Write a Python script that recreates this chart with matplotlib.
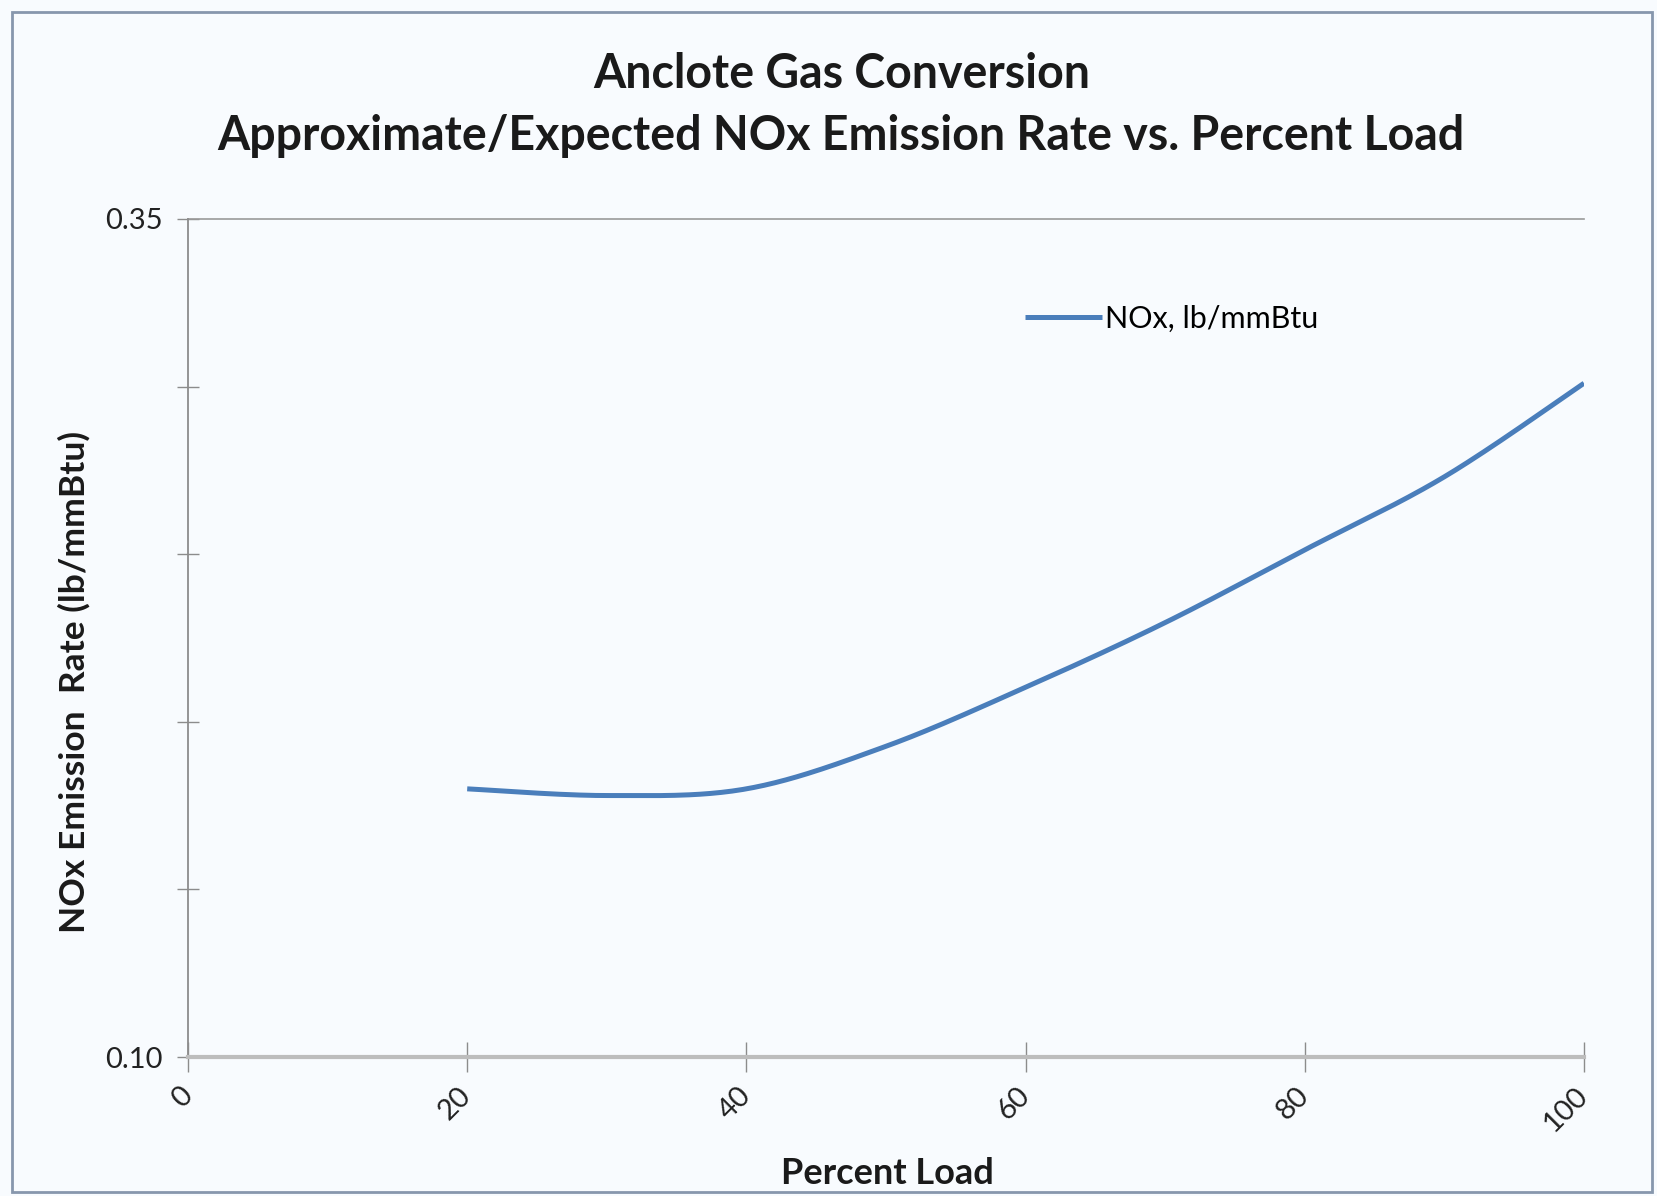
import numpy as np
import matplotlib
matplotlib.use("Agg")
import matplotlib.pyplot as plt
from matplotlib.patches import Rectangle

# Percent load vs. NOx emission rate (lb/mmBtu)
load_pct = [20, 30, 40, 50, 60, 70, 80, 90, 100]
nox_rate = [0.180, 0.178, 0.180, 0.1927, 0.2103, 0.2296, 0.2513, 0.2731, 0.301]

x_ticks = [0, 20, 40, 60, 80, 100]
y_ticks = [0.10, 0.15, 0.20, 0.25, 0.30, 0.35]
y_tick_labels = ["0.10", "", "", "", "", "0.35"]

title_lines = ["Anclote Gas Conversion",
               "Approximate/Expected NOx Emission Rate vs. Percent Load"]
x_label = "Percent Load"
y_label = "NOx Emission  Rate (lb/mmBtu)"
series_name = "NOx, lb/mmBtu"

LINE_BLUE = "#4a7ebb"
BG = "#f8fbfe"
FONT = ["Lato", "DejaVu Sans"]
W, H = 1657, 1196


def smooth_curve(xs, ys, n=40):
    """Spreadsheet-style smoothed line: cubic Bezier segments with
    Catmull-Rom style control points through every data point."""
    xs = np.asarray(xs, float)
    ys = np.asarray(ys, float)
    px = np.concatenate([[xs[0]], xs, [xs[-1]]])
    py = np.concatenate([[ys[0]], ys, [ys[-1]]])
    out_x, out_y = [], []
    t = np.linspace(0, 1, n)
    for i in range(1, len(px) - 2):
        p0 = np.array([px[i], py[i]])
        p3 = np.array([px[i + 1], py[i + 1]])
        c1 = p0 + (np.array([px[i + 1], py[i + 1]]) - np.array([px[i - 1], py[i - 1]])) / 6
        c2 = p3 - (np.array([px[i + 2], py[i + 2]]) - np.array([px[i], py[i]])) / 6
        b = ((1 - t) ** 3)[:, None] * p0 + (3 * (1 - t) ** 2 * t)[:, None] * c1 \
            + (3 * (1 - t) * t ** 2)[:, None] * c2 + (t ** 3)[:, None] * p3
        out_x.extend(b[:, 0])
        out_y.extend(b[:, 1])
    return np.array(out_x), np.array(out_y)


fig = plt.figure(figsize=(W / 100, H / 100), dpi=100)
fig.patch.set_facecolor(BG)

# chart frame
fig.patches.append(Rectangle((12 / W, 4 / H), 1640 / W, 1180 / H,
                             transform=fig.transFigure, fill=False,
                             edgecolor="#8797ad", linewidth=2.0))

ax = fig.add_axes([188 / W, 1 - 1057 / H, (1584 - 188) / W, (1057 - 219) / H])
ax.set_facecolor(BG)

sx, sy = smooth_curve(load_pct, nox_rate)
ax.plot(sx, sy, color=LINE_BLUE, linewidth=3.6, solid_capstyle="butt", label=series_name)

ax.set_xlim(0, 100)
ax.set_ylim(0.10, 0.35)

for side in ["top", "right"]:
    ax.spines[side].set_visible(False)
ax.spines["left"].set_color("#8c8c8c")
ax.spines["left"].set_linewidth(1.3)
ax.spines["bottom"].set_color("#bdbdbd")
ax.spines["bottom"].set_linewidth(3.0)

# top gridline at 0.35
ax.axhline(0.35, color="#9a9a9a", linewidth=1.2, clip_on=False)

ax.set_xticks(x_ticks)
ax.set_xticklabels([str(v) for v in x_ticks], rotation=45, ha="right", va="center",
                   rotation_mode="anchor", fontsize=21, family=FONT, color="#222222")
ax.set_yticks(y_ticks)
ax.set_yticklabels(y_tick_labels, fontsize=21, family=FONT, color="#222222")
ax.tick_params(axis="x", direction="inout", length=22, width=1.0, color="#8c8c8c", pad=14)
ax.tick_params(axis="y", direction="inout", length=16, width=1.0, color="#8c8c8c", pad=10)

fig.text(887 / W, 1 - 1173 / H, x_label, ha="center", va="center",
         fontsize=26, fontweight="bold", family=FONT, color="#1a1a1a")
fig.text(74 / W, 1 - 682 / H, y_label, ha="center", va="center", rotation=90,
         fontsize=25.5, fontweight="bold", family=FONT, color="#1a1a1a")

fig.text(0.5077, 1 - 74 / H, title_lines[0], ha="center", va="center",
         fontsize=33.5, fontweight="bold", family=FONT, color="#1a1a1a")
fig.text(0.5077, 1 - 136 / H, title_lines[1], ha="center", va="center",
         fontsize=33.5, fontweight="bold", family=FONT, color="#1a1a1a")

leg = ax.legend(loc="upper left", bbox_to_anchor=(0.58, 0.93), frameon=False,
                prop={"family": FONT, "size": 22}, handlelength=2.5, handletextpad=0.1)

fig.savefig("out.png", dpi=100, facecolor=BG)
